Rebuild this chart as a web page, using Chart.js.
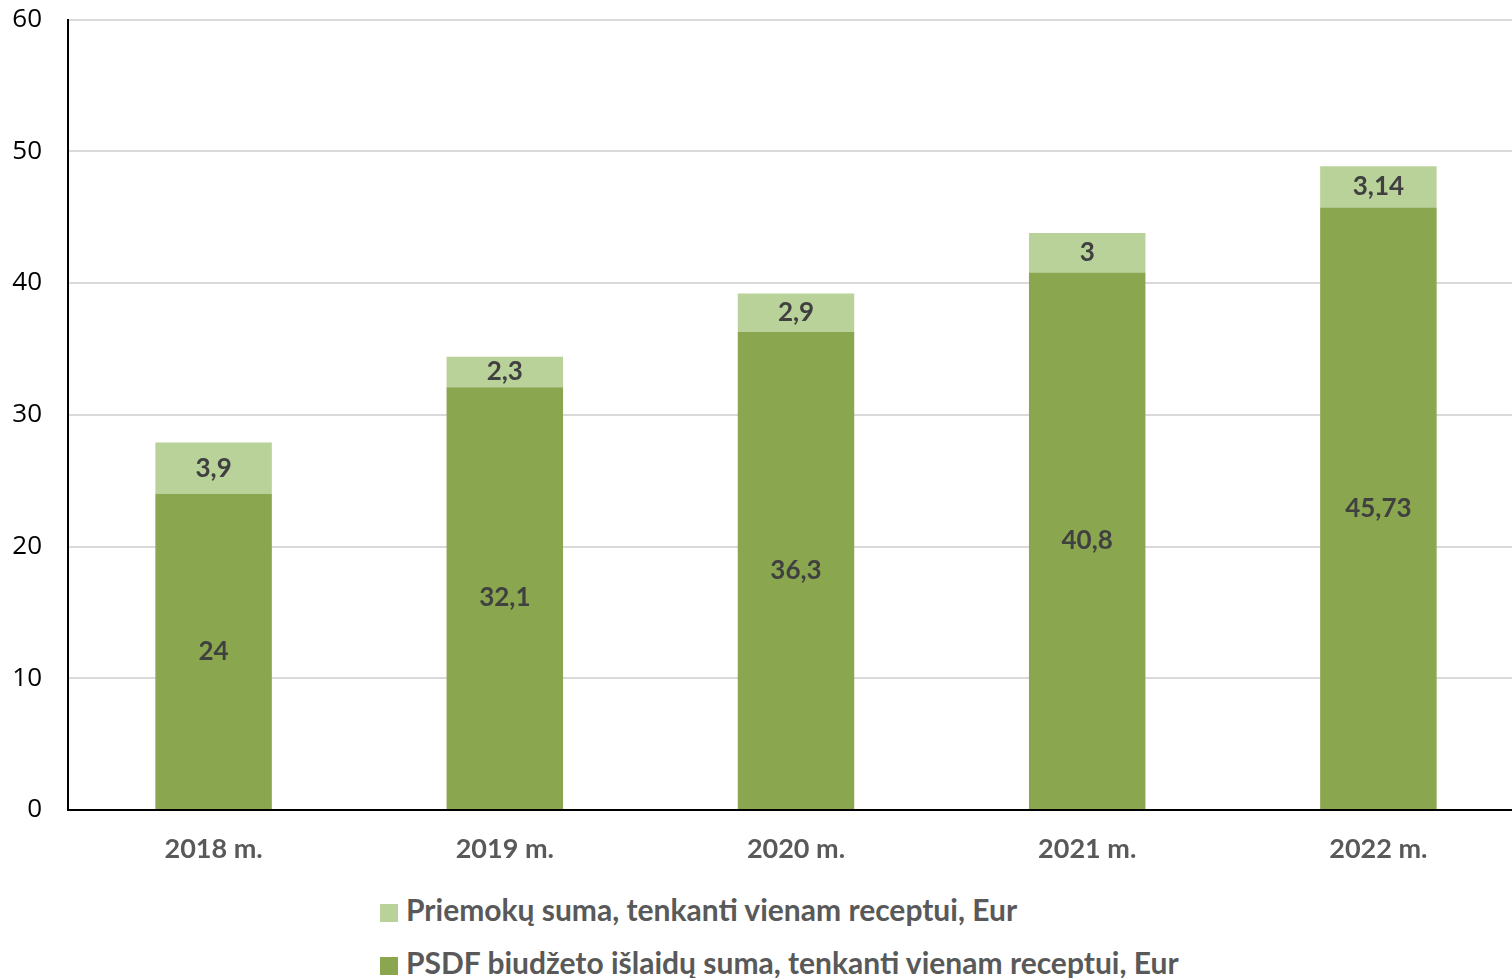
<!DOCTYPE html>
<html lang="lt">
<head>
<meta charset="UTF-8">
<title>Receptų išlaidos</title>
<script src="https://cdn.jsdelivr.net/npm/chart.js"></script>
<style>
    html, body {
        margin: 0;
        padding: 0;
        background: #fff;
        overflow: hidden;
    }
    .wrap {
        position: relative;
        width: 1524px;
        height: 978px;
        overflow: hidden;
    }
    #chart {
        position: absolute;
        left: 0;
        top: -22px;
    }
    .legend {
        position: absolute;
        left: 380px;
        top: 889px;
        font-family: Lato, sans-serif;
        font-weight: bold;
        font-size: 30px;
        color: #595959;
    }
    .legend div {
        height: 53px;
        line-height: 40px;
        white-space: nowrap;
    }
    .legend span {
        display: inline-block;
        width: 18px;
        height: 18px;
        margin-right: 8px;
        vertical-align: -1px;
    }
</style>
</head>
<body>

<div class="wrap">
    <canvas id="chart" width="1524" height="902"></canvas>
    <div class="legend" id="legend"></div>
</div>

<script>
    // data
    var years = ['2018 m.', '2019 m.', '2020 m.', '2021 m.', '2022 m.'];
    var psdfValues = [24, 32.1, 36.3, 40.8, 45.73];
    var priemokuValues = [3.9, 2.3, 2.9, 3, 3.14];
    var psdfLabel = 'PSDF biudžeto išlaidų suma, tenkanti vienam receptui, Eur';
    var priemokuLabel = 'Priemokų suma, tenkanti vienam receptui, Eur';

    var darkGreen = '#8aa64f';
    var lightGreen = '#b9d29a';

    // values written in the middle of each bar piece
    var valueLabels = {
        id: 'valueLabels',
        afterDatasetsDraw: function (chart) {
            var ctx = chart.ctx;
            ctx.save();
            ctx.font = 'bold 26px Lato, sans-serif';
            ctx.fillStyle = '#404040';
            ctx.textAlign = 'center';
            ctx.textBaseline = 'middle';
            chart.data.datasets.forEach(function (ds, i) {
                chart.getDatasetMeta(i).data.forEach(function (bar, j) {
                    var mid = (bar.y + bar.base) / 2;
                    ctx.fillText(String(ds.data[j]).replace('.', ','), bar.x, mid);
                });
            });
            ctx.restore();
        }
    };

    new Chart(document.getElementById('chart'), {
        type: 'bar',
        data: {
            labels: years,
            datasets: [{
                label: psdfLabel,
                data: psdfValues,
                backgroundColor: darkGreen
            }, {
                label: priemokuLabel,
                data: priemokuValues,
                backgroundColor: lightGreen
            }]
        },
        options: {
            responsive: false,
            animation: false,
            categoryPercentage: 0.8,
            barPercentage: 0.5,
            layout: {
                padding: { top: 0, right: 0, bottom: 8, left: 0 }
            },
            plugins: {
                legend: { display: false },
                tooltip: { enabled: false }
            },
            scales: {
                x: {
                    stacked: true,
                    grid: { display: false },
                    border: { color: '#000', width: 2 },
                    ticks: {
                        color: '#595959',
                        padding: 15,
                        font: { family: 'Lato', weight: 'bold', size: 27 }
                    },
                    afterFit: function (scale) { scale.height = 62; }
                },
                y: {
                    stacked: true,
                    min: 0,
                    max: 60,
                    ticks: {
                        stepSize: 10,
                        color: '#000',
                        padding: 26,
                        font: { family: 'Open Sans', size: 26 }
                    },
                    grid: { color: '#d9d9d9', lineWidth: 2, drawTicks: false },
                    border: { color: '#000', width: 2 },
                    afterFit: function (scale) { scale.width = 68; }
                }
            }
        },
        plugins: [valueLabels]
    });

    // legend below the chart, light series first
    var legend = document.getElementById('legend');
    [[lightGreen, priemokuLabel], [darkGreen, psdfLabel]].forEach(function (item) {
        var row = document.createElement('div');
        var box = document.createElement('span');
        box.style.background = item[0];
        row.appendChild(box);
        row.appendChild(document.createTextNode(item[1]));
        legend.appendChild(row);
    });
</script>

</body>
</html>
